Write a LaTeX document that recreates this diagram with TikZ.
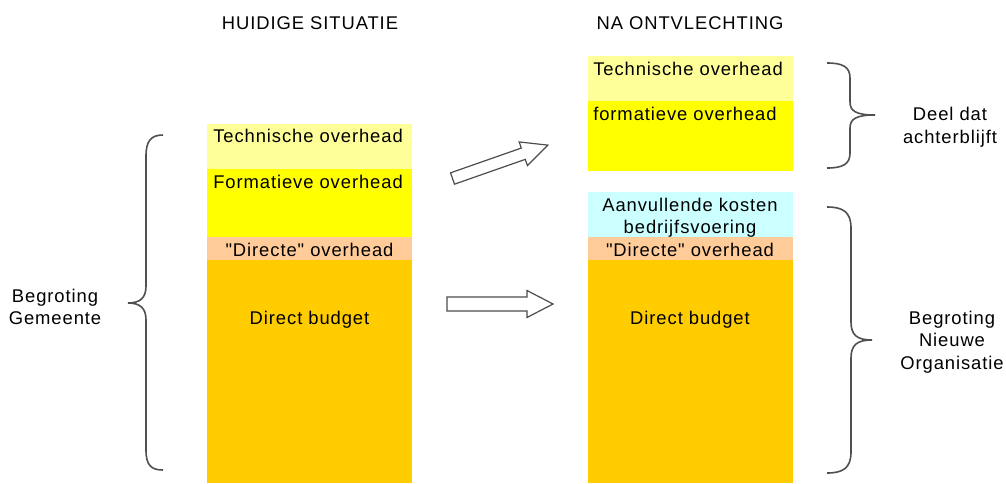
\documentclass[tikz,border=0pt]{standalone}
\usepackage{fontspec}
\setmainfont[LetterSpace=5,Ligatures=TeXOff]{Liberation Sans}
\definecolor{techc}{HTML}{FFFF99}
\definecolor{formc}{HTML}{FFFF00}
\definecolor{dirc}{HTML}{FFCC99}
\definecolor{budc}{HTML}{FFCC00}
\definecolor{aanc}{HTML}{CCFFFF}
\definecolor{brc}{HTML}{505050}
\begin{document}
\begin{tikzpicture}[x=0.75pt,y=-0.75pt,
  blk/.style={draw=none,anchor=north west,inner sep=0pt,minimum width=205*0.75pt},
  txt/.style={inner sep=0pt,font=\fontsize{13.8pt}{16pt}\selectfont},
  lab/.style={txt,align=center,font=\fontsize{13.8pt}{17pt}\selectfont},
  brace/.style={draw=brc,line width=1.2pt},
  bigarrow/.style={draw=black!70,fill=white,line width=0.9pt,line join=miter}]
\useasboundingbox (0,0) rectangle (1006,483);
% titles
\node[txt,anchor=base] (t1) at (310,29) {HUIDIGE SITUATIE};
\node[txt,anchor=base] (t2) at (690,29) {NA ONTVLECHTING};
% left column
\node[blk,fill=techc,minimum height=45*0.75pt] (lt) at (207,124) {};
\node[blk,fill=formc,minimum height=69*0.75pt] (lf) at (207,169) {};
\node[blk,fill=dirc,minimum height=23*0.75pt] (ld) at (207,237) {};
\node[blk,fill=budc,minimum height=223*0.75pt] (lb) at (207,260) {};
\node[txt,anchor=base west] (ltt) at (213,142) {Technische overhead};
\node[txt,anchor=base west] (lft) at (213,188) {Formatieve overhead};
\node[txt,anchor=base] (ldt) at (309.5,256) {"Directe" overhead};
\node[txt,anchor=base] (lbt) at (309.5,324) {Direct budget};
% right column
\node[blk,fill=techc,minimum height=45*0.75pt] (rt) at (588,56) {};
\node[blk,fill=formc,minimum height=70*0.75pt] (rf) at (588,101) {};
\node[blk,fill=aanc,minimum height=45*0.75pt] (ra) at (588,192) {};
\node[blk,fill=dirc,minimum height=23*0.75pt] (rd) at (588,237) {};
\node[blk,fill=budc,minimum height=223*0.75pt] (rb) at (588,260) {};
\node[txt,anchor=base west] (rtt) at (593,75) {Technische overhead};
\node[txt,anchor=base west] (rft) at (593,120) {formatieve overhead};
\node[txt,anchor=base] (rat) at (690,211) {Aanvullende kosten};
\node[txt,anchor=base] (rat2) at (690,233) {bedrijfsvoering};
\node[txt,anchor=base] (rdt) at (690,256) {"Directe" overhead};
\node[txt,anchor=base] (rbt) at (690,324) {Direct budget};
% arrows
\begin{scope}[shift={(452.5,178.5)},rotate=19.3]
\draw[bigarrow] (0,-6) -- (75,-6) -- (75,-12.5) -- (101,0) -- (75,12.5) -- (75,6) -- (0,6) -- cycle;
\end{scope}
\draw[bigarrow] (447,297) -- (527,297) -- (527,290.5) -- (553,304) -- (527,317.5) -- (527,311) -- (447,311) -- cycle;
% left brace
\draw[brace] (163,135) .. controls (151,135) and (146,141) .. (146,156) -- (146,286)
  .. controls (146,298) and (140,303) .. (128,303)
  .. controls (140,303) and (146,308) .. (146,320) -- (146,450)
  .. controls (146,465) and (151,470) .. (163,470);
\node[lab] (bg) at (55,307) {Begroting\\Gemeente};
% right top brace
\draw[brace] (827,63) .. controls (843,63) and (850,67) .. (850,78) -- (850,102)
  .. controls (850,111) and (856,115) .. (875,115)
  .. controls (856,115) and (850,119) .. (850,128) -- (850,153)
  .. controls (850,164) and (843,168) .. (827,168);
\node[lab] (dd) at (950,127) {Deel dat\\achterblijft};
% right bottom brace
\draw[brace] (827,207) .. controls (843,207) and (851,212) .. (851,228) -- (851,322)
  .. controls (851,335) and (857,340) .. (872,340)
  .. controls (857,340) and (851,345) .. (851,358) -- (851,452)
  .. controls (851,468) and (843,473) .. (827,473);
\node[lab] (bn) at (952,342) {Begroting\\Nieuwe\\Organisatie};
\end{tikzpicture}
\end{document}
